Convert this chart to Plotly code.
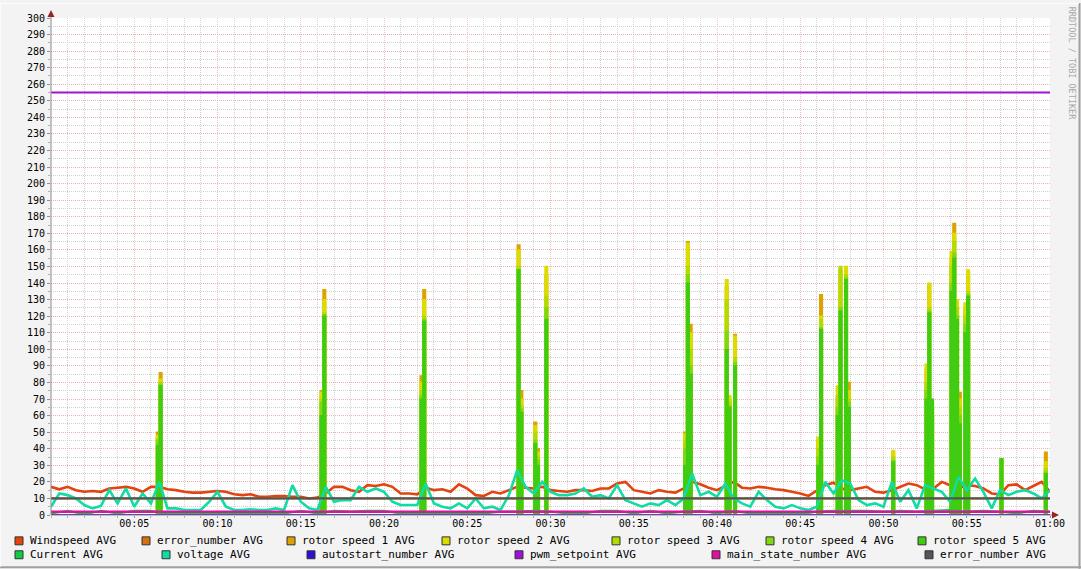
import numpy as np
import plotly.graph_objects as go

# ---------------- data ----------------
# Windspeed / voltage sampled every 30 s (00:00 .. 01:00)
windspeed = [17, 15.5, 17, 15, 14, 14.5, 14, 16, 16.5, 17, 16, 14, 17, 17, 15.5, 15, 14, 13.5, 13.5, 14,
             14.5, 14, 12.5, 12, 12.5, 11, 11, 11.5, 11.5, 11, 11, 10, 10.5, 13, 17, 17,
             15, 14, 18, 17.5, 18.5, 17, 13, 13, 12.5, 16.5, 15, 15.5, 14, 18.5, 16, 12, 11.5, 14, 13, 15,
             17, 16.5, 16, 17, 15, 14.5, 14, 15, 15, 14.5, 16, 16, 19, 20,
             15, 14, 13, 15, 14, 13.5, 16, 20, 18.5, 16.5, 15, 17.5, 20, 16.5, 16, 17, 16.5, 15.5, 15, 14,
             13, 11.5, 15, 18, 19.5, 16, 15, 16, 17, 14, 13.5, 15, 17, 19, 18, 15.5, 16, 20, 18, 16,
             18, 17.5, 16, 13, 12.5, 18, 18.5, 15, 17.5, 20, 14]
voltage = [5, 13, 12, 10, 6, 4, 5.5, 15, 7, 16, 5, 13, 7, 20, 4, 4, 3, 3, 3, 8,
           14, 5, 3, 3, 3.5, 3, 3, 4, 3, 18, 8, 4, 3, 17, 8, 9,
           9, 17, 14, 16, 14, 8, 6, 6, 6, 19, 7, 5, 4, 7, 4, 10, 4, 5, 3, 12,
           27, 17, 13, 20, 14, 12, 12, 13, 16, 11, 12, 10, 18, 9,
           7, 5, 7, 6, 9, 6, 10, 25, 12, 14, 11, 19, 10, 7, 5, 14, 9, 5, 4, 6,
           4, 3, 5, 20, 13, 21, 19, 9, 6, 7, 5, 20, 8, 15, 4, 18, 16, 14, 8, 23,
           15, 22, 14, 4, 15, 12, 14, 15, 13, 10, 15]
# Current sampled every minute
current = [1, 2.5, 0.5, 2.5, 1, 2.5, 2.5, 0.5, 0.5, 1, 0.5, 0.5, 0.5, 0.5, 1, 2.5, 1, 2.5, 2, 2.5,
           2.5, 1, 1, 1, 0.5, 0.5, 1, 2, 2, 2.5, 2, 1, 1, 2.5, 2.5, 1, 2.5, 1, 2, 2.5,
           1, 2.5, 1, 1, 0.5, 0.5, 2, 2.5, 2.5, 2.5, 2, 2.5, 2, 2.5, 3, 2, 2.5, 2, 1, 2.5, 2]
# Rotor speed bursts: start second of the 10 s sample, and value per rotor
spike_sec = [380, 390, 970, 980, 1330, 1340, 1680, 1690, 1740, 1750, 1780, 2280, 2290, 2300,
             2430, 2440, 2460, 2760, 2770, 2830, 2840, 2860, 2870, 3030, 3150, 3160, 3170,
             3240, 3250, 3260, 3270, 3290, 3300, 3420, 3580]
rotor1 = [50, 86, 75, 136, 84, 136, 163, 75, 56, 40, 145, 50, 165, 115, 138, 70, 109, 45, 133, 70,
          148, 149, 80, 38, 88, 139, 60, 155, 176, 125, 74, 125, 146, 33, 38]
rotor2 = [48, 82, 74, 130, 80, 130, 160, 70, 54, 38, 150, 49, 164, 110, 142, 72, 108, 47, 120, 78,
          149, 150, 75, 39, 91, 140, 62, 159, 170, 130, 70, 128, 148, 33, 32]
rotor3 = [46, 80, 70, 122, 75, 120, 150, 66, 50, 35, 132, 45, 150, 100, 130, 68, 95, 40, 118, 72,
          150, 145, 70, 35, 80, 125, 65, 150, 165, 125, 65, 120, 135, 34, 28]
rotor4 = [45, 79, 68, 121, 72, 118, 148, 64, 45, 33, 125, 40, 145, 90, 111, 66, 92, 35, 113, 65,
          125, 143, 68, 33, 75, 123, 68, 140, 158, 120, 60, 115, 133, 34, 26]
rotor5 = [42, 78, 60, 120, 70, 117, 148, 62, 43, 30, 118, 30, 140, 85, 100, 65, 90, 30, 112, 60,
          123, 142, 65, 32, 70, 122, 70, 135, 155, 118, 55, 110, 132, 34, 25]
error_number = 10
autostart_number = 0
pwm_setpoint = 255
main_state_number = 2

x_tick_minutes = [5, 10, 15, 20, 25, 30, 35, 40, 45, 50, 55, 60]
x_tick_labels = ["00:05", "00:10", "00:15", "00:20", "00:25", "00:30",
                 "00:35", "00:40", "00:45", "00:50", "00:55", "01:00"]

legend_row1 = ["Windspeed AVG", "error_number AVG", "rotor speed 1 AVG", "rotor speed 2 AVG",
               "rotor speed 3 AVG", "rotor speed 4 AVG", "rotor speed 5 AVG"]
legend_row2 = ["Current AVG", "voltage AVG", "autostart_number AVG", "pwm_setpoint AVG",
               "main_state_number AVG", "error_number AVG"]

# ---------------- styles ----------------
C = dict(wind='#E4420E', err1='#D6720C', r1='#DDA200', r2='#DCDC00', r3='#B2DC00',
         r4='#80D810', r5='#40CC10', cur='#10CC40', volt='#10DCA4', auto='#2C10D8',
         pwm='#A010D8', main='#E010A0', err2='#555555')
row1_colors = [C['wind'], C['err1'], C['r1'], C['r2'], C['r3'], C['r4'], C['r5']]
row2_colors = [C['cur'], C['volt'], C['auto'], C['pwm'], C['main'], C['err2']]
row1_x = [15, 142, 287, 442, 612, 766, 918]
row2_x = [15, 162, 307, 515, 712, 925]

W, H = 1081, 569
L, R, T, B = 51, 1050, 15, 515


def px(x):
    return (x - L) / (R - L)


def py(y):
    return (B - y) / (B - T)


t30 = np.arange(len(windspeed)) * 0.5
t60 = np.arange(len(current)) * 1.0
t10 = np.arange(361) / 6.0


def bursts(values):
    arr = np.zeros(361)
    for s, v in zip(spike_sec, values):
        arr[s // 10] = v
    return arr


fig = go.Figure()


def add(x, y, color, shape='linear', width=2, fill=None):
    fig.add_trace(go.Scatter(x=x, y=y, mode='lines', hoverinfo='skip', showlegend=False,
                             line=dict(color=color, width=width, shape=shape),
                             fill=fill, fillcolor=color if fill else None))


add(t30, windspeed, C['wind'], width=2.6)
add([0, 60], [error_number, error_number], C['err1'])
for vals, col in [(rotor1, C['r1']), (rotor2, C['r2']), (rotor3, C['r3']),
                  (rotor4, C['r4']), (rotor5, C['r5'])]:
    add(t10, bursts(vals), col, shape='hv', width=1.3, fill='tozeroy')
add(t60, current, C['cur'], width=2.2)
add(t30, voltage, C['volt'], width=2.6)
add([0, 60], [autostart_number] * 2, C['auto'])
add([0, 60], [pwm_setpoint] * 2, C['pwm'])
add([0, 60], [main_state_number] * 2, C['main'], width=2.4)
add([0, 60], [error_number] * 2, C['err2'], width=2.2)

MAJ_Y = '#EDB0B0'
MAJ_X = '#EDC4C4'
MIN = '#D2D2D2'
DASH = '1px,1px'

fig.update_layout(
    width=W, height=H, autosize=False,
    margin=dict(l=L, r=W - R, t=T, b=H - B, pad=0),
    paper_bgcolor='#F3F3F3', plot_bgcolor='#FFFFFF', showlegend=False,
    font=dict(family='DejaVu Sans Mono', size=10, color='#000000'),
)
fig.update_xaxes(
    range=[0, 60], tickmode='array', tickvals=x_tick_minutes, ticktext=x_tick_labels,
    showgrid=True, gridcolor=MAJ_X, griddash=DASH, gridwidth=1, zeroline=False, showline=False,
    ticks='outside', ticklen=2, tickcolor='#909090', tickfont=dict(size=10),
    ticklabelstandoff=-3,
    minor=dict(tickmode='linear', tick0=0, dtick=1, showgrid=True, gridcolor=MIN,
               griddash=DASH, ticks='outside', ticklen=2, tickcolor='#B0B0B0'),
    fixedrange=True,
)
fig.update_yaxes(
    range=[0, 300], tickmode='linear', tick0=0, dtick=10,
    showgrid=True, gridcolor=MAJ_Y, griddash=DASH, gridwidth=1, zeroline=False, showline=False,
    ticks='outside', ticklen=3, tickcolor='#909090', tickfont=dict(size=10),
    minor=dict(tickmode='linear', tick0=0, dtick=5, showgrid=True, gridcolor=MIN,
               griddash=DASH, ticks='outside', ticklen=2, tickcolor='#B0B0B0'),
    fixedrange=True,
)

shapes = []
# axis lines
shapes.append(dict(type='line', xref='paper', yref='paper', x0=px(51), x1=px(51), y0=py(515), y1=py(11),
                   line=dict(color='#8A8A8A', width=1)))
shapes.append(dict(type='line', xref='paper', yref='paper', x0=px(51), x1=px(1055), y0=py(515), y1=py(515),
                   line=dict(color='#8A8A8A', width=1)))
# arrows
shapes.append(dict(type='path', xref='paper', yref='paper',
                   path=f"M {px(51)},{py(7)} L {px(47.5)},{py(14)} L {px(54.5)},{py(14)} Z",
                   fillcolor='#9A2424', line=dict(width=0)))
shapes.append(dict(type='path', xref='paper', yref='paper',
                   path=f"M {px(1059)},{py(515)} L {px(1052)},{py(511.5)} L {px(1052)},{py(518.5)} Z",
                   fillcolor='#9A2424', line=dict(width=0)))
# outer 3D frame
shapes.append(dict(type='line', xref='paper', yref='paper', x0=px(1079.5), x1=px(1079.5), y0=py(0), y1=py(569),
                   line=dict(color='#A0A0A0', width=2)))
shapes.append(dict(type='line', xref='paper', yref='paper', x0=px(0), x1=px(1081), y0=py(567.5), y1=py(567.5),
                   line=dict(color='#A0A0A0', width=2)))
shapes.append(dict(type='line', xref='paper', yref='paper', x0=px(0.5), x1=px(0.5), y0=py(0), y1=py(567),
                   line=dict(color='#FCFCFC', width=1)))
shapes.append(dict(type='line', xref='paper', yref='paper', x0=px(0), x1=px(1079), y0=py(0.5), y1=py(0.5),
                   line=dict(color='#FCFCFC', width=1)))

annotations = []
for names, colors, xs, yc in [(legend_row1, row1_colors, row1_x, 541),
                              (legend_row2, row2_colors, row2_x, 555)]:
    for name, col, sx in zip(names, colors, xs):
        shapes.append(dict(type='rect', xref='paper', yref='paper',
                           x0=px(sx), x1=px(sx + 8), y0=py(yc - 4), y1=py(yc + 4),
                           fillcolor=col, line=dict(color='#333333', width=1)))
        annotations.append(dict(xref='paper', yref='paper', x=px(sx + 13), y=py(yc),
                                xanchor='left', yanchor='middle', showarrow=False, text=name,
                                font=dict(family='DejaVu Sans Mono', size=11, color='#000000')))

annotations.append(dict(xref='paper', yref='paper', x=px(1072), y=py(60), xanchor='center', yanchor='middle',
                        showarrow=False, text='RRDTOOL / TOBI OETIKER', textangle=90,
                        font=dict(family='DejaVu Sans Mono', size=8.5, color='#A8A8A8')))

fig.update_layout(shapes=shapes, annotations=annotations)
fig.write_html("out.html", config={'displayModeBar': False, 'staticPlot': True},
               post_script="document.body.style.margin='0px';document.body.style.padding='0px';"
                           "document.body.style.overflow='hidden';")
